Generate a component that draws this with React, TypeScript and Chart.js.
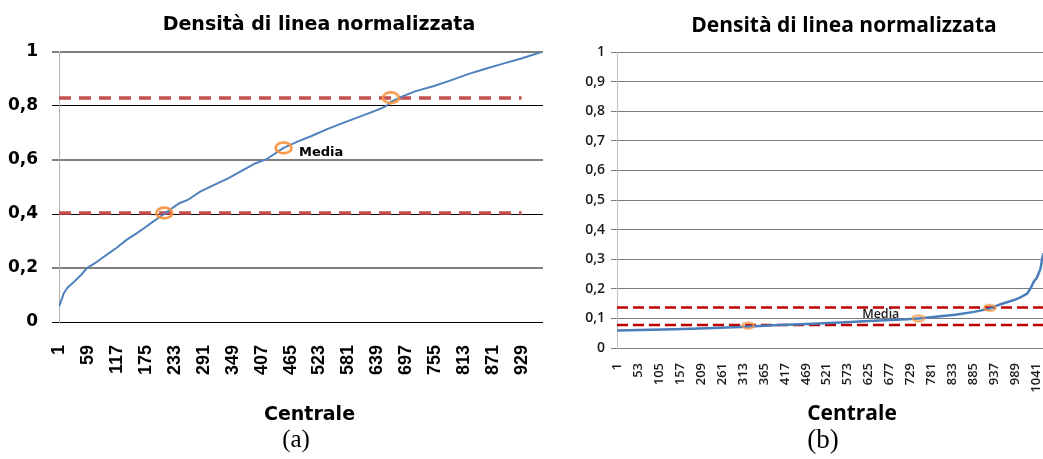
import React, { useEffect, useRef } from "react";
import { Chart, registerables } from "chart.js";

Chart.register(...registerables);

// ---------- Panel (a) ----------
const A_TITLE = "Densità di linea normalizzata";
const A_AXIS_TITLE = "Centrale";
const A_CAPTION = "(a)";
const A_X = [1, 11, 18, 29, 46, 57, 74, 88, 102, 116, 137, 158, 172, 186, 200, 212, 228, 242, 259, 284, 312, 340, 367, 395, 416, 451, 479, 507, 542, 577, 612, 647, 657, 666, 688, 716, 751, 786, 821, 856, 891, 926, 968];
const A_Y = [0.057, 0.108, 0.127, 0.145, 0.176, 0.2, 0.219, 0.238, 0.256, 0.274, 0.305, 0.33, 0.348, 0.367, 0.385, 0.4, 0.422, 0.44, 0.452, 0.483, 0.508, 0.532, 0.56, 0.588, 0.602, 0.645, 0.668, 0.689, 0.717, 0.742, 0.766, 0.791, 0.8, 0.815, 0.835, 0.855, 0.873, 0.895, 0.918, 0.938, 0.957, 0.975, 1.0];
const A_MARK_X = [212, 451, 666];
const A_MARK_Y = [0.404, 0.645, 0.831];
const A_REF_Y = [0.404, 0.83];
const A_REF_FROM = 1;
const A_REF_TO = 928;
const A_X_MAX = 1005;
const A_XTICKS = [1, 59, 117, 175, 233, 291, 349, 407, 465, 523, 581, 639, 697, 755, 813, 871, 929];
const A_YTICKS = [0, 0.2, 0.4, 0.6, 0.8, 1];
const A_YLABELS = ["0", "0,2", "0,4", "0,6", "0,8", "1"];
const A_MEDIA_LABEL = "Media";

// ---------- Panel (b) ----------
const B_TITLE = "Densità di linea normalizzata";
const B_AXIS_TITLE = "Centrale";
const B_CAPTION = "(b)";
const B_X = [1, 142, 225, 307, 390, 472, 555, 638, 720, 748, 803, 844, 886, 925, 952, 985, 1001, 1018, 1026, 1034, 1042, 1051, 1055, 1058];
const B_Y = [0.059, 0.063, 0.067, 0.071, 0.077, 0.081, 0.086, 0.092, 0.097, 0.1, 0.107, 0.113, 0.122, 0.133, 0.148, 0.162, 0.171, 0.184, 0.201, 0.224, 0.238, 0.269, 0.303, 0.32];
const B_MARK_X = [326, 748, 925];
const B_MARK_Y = [0.076, 0.1, 0.136];
const B_REF_Y = [0.078, 0.137];
const B_REF_FROM = 1;
const B_REF_TO = 1166;
const B_X_MAX = 1166;
const B_XTICKS = [1, 53, 105, 157, 209, 261, 313, 365, 417, 469, 521, 573, 625, 677, 729, 781, 833, 885, 937, 989, 1041];
const B_YTICKS = [0, 0.1, 0.2, 0.3, 0.4, 0.5, 0.6, 0.7, 0.8, 0.9, 1];
const B_YLABELS = ["0", "0,1", "0,2", "0,3", "0,4", "0,5", "0,6", "0,7", "0,8", "0,9", "1"];
const B_MEDIA_LABEL = "Media";

const ORANGE = "#f79646";

function ellipseMarker(w: number, h: number, lw: number, color: string) {
  const c = document.createElement("canvas");
  c.width = Math.ceil(w + lw + 2);
  c.height = Math.ceil(h + lw + 2);
  const g = c.getContext("2d")!;
  g.strokeStyle = color;
  g.lineWidth = lw;
  g.beginPath();
  g.ellipse(c.width / 2, c.height / 2, w / 2, h / 2, 0, 0, Math.PI * 2);
  g.stroke();
  return c;
}

const mediaLabel = {
  id: "mediaLabel",
  afterDatasetsDraw(chart: any, _args: any, opts: any) {
    const { ctx, scales } = chart;
    const px = scales.x.getPixelForValue(opts.x) + opts.dx;
    const py = scales.y.getPixelForValue(opts.y) + opts.dy;
    ctx.save();
    ctx.font = opts.font;
    ctx.fillStyle = opts.color;
    ctx.textAlign = opts.align;
    ctx.textBaseline = "middle";
    ctx.fillText(opts.text, px, py);
    ctx.restore();
  },
};

const pts = (xs: number[], ys: number[]) => xs.map((x, i) => ({ x, y: ys[i] }));
const hline = (y: number, from: number, to: number) => [
  { x: from, y },
  { x: to, y },
];

function configA(): any {
  const marker = ellipseMarker(16, 10.7, 2.6, ORANGE);
  return {
    type: "line",
    data: {
      datasets: [
        {
          data: pts(A_MARK_X, A_MARK_Y),
          showLine: false,
          pointStyle: marker,
          pointRadius: 10,
          pointHoverRadius: 10,
          borderColor: "transparent",
          backgroundColor: "transparent",
        },
        {
          data: pts(A_X, A_Y),
          borderColor: "#4f81bd",
          borderWidth: 2,
          pointRadius: 0,
          tension: 0,
        },
        ...A_REF_Y.map((y) => ({
          data: hline(y, A_REF_FROM, A_REF_TO),
          borderColor: "#c4504d",
          borderWidth: 3.5,
          borderDash: [12, 8],
          pointRadius: 0,
        })),
      ],
    },
    plugins: [mediaLabel],
    options: {
      responsive: false,
      animation: false,
      events: [],
      layout: { padding: { left: 0, right: 40, top: 52, bottom: 0 } },
      plugins: {
        legend: { display: false },
        tooltip: { enabled: false },
        mediaLabel: {
          text: A_MEDIA_LABEL,
          x: A_MARK_X[1],
          y: A_MARK_Y[1],
          dx: 15.5,
          dy: 4.5,
          align: "left",
          font: 'bold 13px "DejaVu Sans", sans-serif',
          color: "#000",
        },
      },
      scales: {
        x: {
          type: "linear",
          min: 1,
          max: A_X_MAX,
          afterBuildTicks: (s: any) => {
            s.ticks = A_XTICKS.map((v) => ({ value: v }));
          },
          afterFit: (s: any) => {
            s.height = 137;
          },
          grid: { display: false, drawTicks: false },
          border: { display: true, color: "#000", width: 1 },
          ticks: {
            autoSkip: false,
            minRotation: 90,
            maxRotation: 90,
            padding: 23,
            color: "#000",
            font: { family: '"Liberation Sans", Arial, sans-serif', size: 18, weight: "bold" },
            callback: (v: any) => String(v),
          },
          title: {
            display: true,
            text: A_AXIS_TITLE,
            color: "#000",
            font: { family: '"DejaVu Sans", sans-serif', size: 19, weight: "bold", lineHeight: 1.2 },
            padding: { top: 0, bottom: 33 },
          },
        },
        y: {
          min: 0,
          max: 1,
          afterBuildTicks: (s: any) => {
            s.ticks = A_YTICKS.map((v) => ({ value: v }));
          },
          afterFit: (s: any) => {
            s.width = 59;
          },
          grid: {
            color: (c: any) => (c.index % 2 === 0 ? "#000" : "#7f7f7f"),
            lineWidth: (c: any) => (c.index % 2 === 0 ? 1 : 2),
            tickLength: 7,
          },
          border: { display: true, color: "#b3b3b3", width: 1 },
          ticks: {
            padding: 14,
            color: "#000",
            font: { family: '"DejaVu Sans", sans-serif', size: 17, weight: "bold" },
            callback: (_v: any, i: number) => A_YLABELS[i],
          },
        },
      },
    },
  };
}

function configB(): any {
  const marker = ellipseMarker(11.5, 5.9, 1.8, ORANGE);
  return {
    type: "line",
    data: {
      datasets: [
        {
          data: pts(B_MARK_X, B_MARK_Y),
          showLine: false,
          pointStyle: marker,
          pointRadius: 8,
          pointHoverRadius: 8,
          borderColor: "transparent",
          backgroundColor: "transparent",
        },
        {
          data: pts(B_X, B_Y),
          borderColor: "#4a7ebb",
          borderWidth: 2.5,
          pointRadius: 0,
          tension: 0,
        },
        ...B_REF_Y.map((y) => ({
          data: hline(y, B_REF_FROM, B_REF_TO),
          borderColor: "#c00000",
          borderWidth: 2.5,
          borderDash: [11, 5],
          pointRadius: 0,
        })),
      ],
    },
    plugins: [mediaLabel],
    options: {
      responsive: false,
      animation: false,
      events: [],
      layout: { padding: { left: 0, right: 34, top: 52, bottom: 0 } },
      plugins: {
        legend: { display: false },
        tooltip: { enabled: false },
        mediaLabel: {
          text: B_MEDIA_LABEL,
          x: B_MARK_X[1],
          y: B_MARK_Y[1],
          dx: -19,
          dy: -3.8,
          align: "right",
          font: '600 12.5px "Open Sans", sans-serif',
          color: "#1a1a1a",
        },
      },
      scales: {
        x: {
          type: "linear",
          min: 1,
          max: B_X_MAX,
          afterBuildTicks: (s: any) => {
            s.ticks = B_XTICKS.map((v) => ({ value: v }));
          },
          afterFit: (s: any) => {
            s.height = 111;
          },
          grid: { display: false, drawTicks: false },
          border: { display: true, color: "#808080", width: 1 },
          ticks: {
            autoSkip: false,
            minRotation: 90,
            maxRotation: 90,
            padding: 15,
            color: "#1a1a1a",
            font: { family: '"Open Sans", sans-serif', size: 13, weight: "600" },
            callback: (v: any) => String(v),
          },
          title: {
            display: true,
            text: B_AXIS_TITLE,
            color: "#000",
            font: { family: '"Open Sans", sans-serif', size: 21, weight: "bold", lineHeight: 1.2 },
            padding: { top: 0, bottom: 32 },
          },
        },
        y: {
          min: 0,
          max: 1,
          afterBuildTicks: (s: any) => {
            s.ticks = B_YTICKS.map((v) => ({ value: v }));
          },
          afterFit: (s: any) => {
            s.width = 76;
          },
          grid: { color: "#7a7a7a", lineWidth: 1, tickLength: 6 },
          border: { display: true, color: "#c0c0c0", width: 1 },
          ticks: {
            padding: 6,
            color: "#1a1a1a",
            font: { family: '"Open Sans", sans-serif', size: 14, weight: "600" },
            callback: (_v: any, i: number) => B_YLABELS[i],
          },
        },
      },
    },
  };
}

export default function App() {
  const refA = useRef<HTMLCanvasElement>(null);
  const refB = useRef<HTMLCanvasElement>(null);

  useEffect(() => {
    const a = new Chart(refA.current!, configA());
    const b = new Chart(refB.current!, configB());
    return () => {
      a.destroy();
      b.destroy();
    };
  }, []);

  const abs = (o: any) => ({ position: "absolute" as const, ...o });

  return (
    <div style={abs({ left: 0, top: 0, width: 1043, height: 459, overflow: "hidden", background: "#fff" })}>
      <div style={abs({ left: 0, top: 0, width: 543, height: 459, overflow: "hidden" })}>
        <canvas ref={refA} width={600} height={459} style={{ display: "block", width: 600, height: 459 }} />
      </div>
      <div style={abs({ left: 543, top: 0, width: 500, height: 459, overflow: "hidden" })}>
        <canvas
          ref={refB}
          width={580}
          height={459}
          style={{ position: "absolute", left: -2, top: 0, display: "block", width: 580, height: 459 }}
        />
      </div>
      <div
        style={abs({
          left: 69,
          width: 500,
          top: 14,
          textAlign: "center",
          font: 'bold 19px/19px "DejaVu Sans", sans-serif',
          color: "#000",
          whiteSpace: "nowrap",
        })}
      >
        {A_TITLE}
      </div>
      <div
        style={abs({
          left: 594,
          width: 500,
          top: 14,
          textAlign: "center",
          font: 'bold 21px/21px "Open Sans", sans-serif',
          color: "#000",
          whiteSpace: "nowrap",
        })}
      >
        {B_TITLE}
      </div>
      <div
        style={abs({
          left: 196,
          width: 200,
          top: 426,
          textAlign: "center",
          font: '25px/25px "Liberation Serif", serif',
          color: "#000",
        })}
      >
        {A_CAPTION}
      </div>
      <div
        style={abs({
          left: 723,
          width: 200,
          top: 426,
          textAlign: "center",
          font: '27px/27px "Liberation Serif", serif',
          color: "#000",
        })}
      >
        {B_CAPTION}
      </div>
    </div>
  );
}
